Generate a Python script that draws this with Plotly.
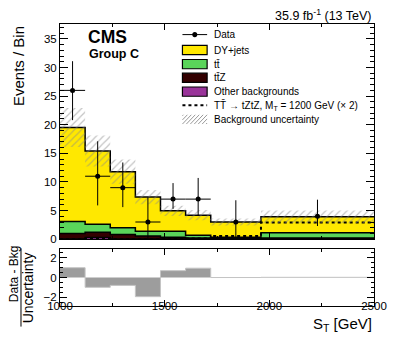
import numpy as np
import plotly.graph_objects as go

# S_T bins in GeV
bin_edges = [1000, 1120, 1240, 1360, 1480, 1600, 1720, 1960, 2500]

# observed data with asymmetric errors
data_obs = [26, 11, 9, 3, 7, 7, 3, 4]
data_err_up = [5.1, 6.1, 4.4, 4.4, 2.8, 3.7, 3.8, 2.9]
data_err_down = [5.2, 5.1, 3.4, 3.0, 1.7, 2.8, 3.0, 1.7]

# background components, stacked bottom -> top
bkg_other = [0.05, 0.3, 0.05, 0.05, 0.05, 0.02, 0.02, 0.05]
bkg_ttz = [0.95, 0.9, 0.75, 0.5, 0.3, 0.18, 0.08, 0.15]
bkg_ttbar = [2.1, 1.4, 1.2, 0.85, 1.05, 0.5, 0.25, 0.9]
bkg_dy = [16.4, 12.8, 9.8, 5.95, 3.55, 3.5, 2.65, 2.8]
bkg_unc = [3.4, 2.7, 2.1, 1.25, 0.9, 0.9, 0.6, 1.1]

# TT -> tZtZ, M_T = 1200 GeV, scaled x2
signal_x2 = [0.05, 0.05, 0.05, 0.05, 0.05, 0.1, 0.55, 2.9]

# (data - bkg) / uncertainty
pull = [1.0, -1.0, -0.8, -1.95, 0.7, 0.95, 0.0, 0.02]

FONT = "Liberation Sans"
# the page body has an 8px margin, so the figure is drawn 8px in from the corner
OFF = 8
W, H = 399 - OFF, 338 - OFF
L, R, T, B = 60, 21, 24, 40          # plot frame in window pixels
PW, PH = 399 - L - R, 338 - T - B

edges = np.array(bin_edges, dtype=float)
centers = 0.5 * (edges[:-1] + edges[1:])
widths = np.diff(edges)


def step(vals):
    vals = list(vals)
    return list(edges), vals + [vals[-1]]


def px_x(px):
    return (px - L) / PW


def px_y(py):
    return (338 - B - py) / PH


lvl_other = np.array(bkg_other)
lvl_ttz = lvl_other + np.array(bkg_ttz)
lvl_ttbar = lvl_ttz + np.array(bkg_ttbar)
lvl_total = lvl_ttbar + np.array(bkg_dy)

fig = go.Figure()

stack = [
    (lvl_total, "#ffe800", "DY+jets"),
    (lvl_ttbar, "#5ad55a", "ttbar"),
    (lvl_ttz, "#330000", "ttZ"),
    (lvl_other, "#993399", "Other"),
]
for lvl, col, name in stack:
    sx, sy = step(lvl)
    fig.add_trace(go.Scatter(x=sx, y=sy, mode="lines", line_shape="hv",
                             fill="tozeroy", fillcolor=col,
                             line=dict(color="black", width=1.5),
                             name=name, xaxis="x", yaxis="y"))

sx, sy = step(signal_x2)
fig.add_trace(go.Scatter(x=sx, y=sy, mode="lines", line_shape="hv",
                         line=dict(color="black", width=2, dash="dot"),
                         xaxis="x", yaxis="y"))

# hatched uncertainty band as one polygon
up = lvl_total + np.array(bkg_unc)
lo = lvl_total - np.array(bkg_unc)
hx, hy = [], []
for i in range(len(centers)):
    hx += [edges[i], edges[i + 1]]
    hy += [up[i], up[i]]
for i in reversed(range(len(centers))):
    hx += [edges[i + 1], edges[i]]
    hy += [lo[i], lo[i]]
fig.add_trace(go.Scatter(x=hx, y=hy, mode="lines", fill="toself",
                         fillcolor="rgba(0,0,0,0)", line=dict(width=0),
                         fillpattern=dict(shape="/", fgcolor="#8a8a8a",
                                          bgcolor="rgba(0,0,0,0)",
                                          fillmode="overlay",
                                          size=5, solidity=0.25),
                         xaxis="x", yaxis="y"))

xerr = np.where(widths <= 120, widths / 2, 0)
fig.add_trace(go.Scatter(x=centers, y=data_obs, mode="markers",
                         marker=dict(color="black", size=5),
                         error_y=dict(type="data", symmetric=False,
                                      array=data_err_up, arrayminus=data_err_down,
                                      width=0, thickness=1, color="black"),
                         error_x=dict(type="data", array=xerr, width=0,
                                      thickness=1, color="black"),
                         xaxis="x", yaxis="y"))

# ratio panel
rx, ry = step(pull)
fig.add_trace(go.Scatter(x=rx, y=ry, mode="lines", line_shape="hv",
                         fill="tozeroy", fillcolor="#9d9d9d",
                         line=dict(color="#c4c4c4", width=1),
                         xaxis="x2", yaxis="y2"))

axis_common = dict(showline=True, linecolor="black", linewidth=1,
                   mirror="ticks", ticks="inside", tickcolor="black",
                   showgrid=False, zeroline=False,
                   tickfont=dict(family=FONT, size=11.5, color="black"))

fig.update_layout(
    width=W, height=H,
    margin=dict(l=L - OFF, r=R, t=T - OFF, b=B - OFF),
    paper_bgcolor="white", plot_bgcolor="white",
    showlegend=False,
    font=dict(family=FONT, color="black"),
    xaxis=dict(axis_common, domain=[0, 1], anchor="y", range=[1000, 2500],
               tickvals=[1000, 1500, 2000, 2500], showticklabels=False,
               ticklen=6, minor=dict(dtick=250, ticklen=3, ticks="inside",
                                     tickcolor="black")),
    yaxis=dict(axis_common, domain=[0.237, 1], anchor="x", range=[0, 37.6],
               dtick=5, ticklen=8,
               minor=dict(dtick=1, ticklen=4, ticks="inside", tickcolor="black")),
    xaxis2=dict(axis_common, domain=[0, 1], anchor="y2", range=[1000, 2500],
                matches="x", tickvals=[1000, 1500, 2000, 2500], ticklen=6,
                ticklabelstandoff=-11,
                minor=dict(dtick=250, ticklen=3, ticks="inside",
                           tickcolor="black")),
    yaxis2=dict(axis_common, domain=[0, 0.202], anchor="x2", range=[-2.9, 2.9],
                tickvals=[-2, 0, 2], ticklen=7,
                minor=dict(dtick=0.5, ticklen=3, ticks="inside",
                           tickcolor="black")),
)

ann = []
ann.append(dict(text="35.9 fb<sup>-1</sup> (13 TeV)", x=1, y=px_y(15),
                xanchor="right", yanchor="middle", font=dict(size=12.5)))
ann.append(dict(text="<b>CMS</b>", x=px_x(86), y=px_y(37), xanchor="left",
                yanchor="middle", font=dict(size=17.5)))
ann.append(dict(text="<b>Group C</b>", x=px_x(87), y=px_y(53), xanchor="left",
                yanchor="middle", font=dict(size=12.5)))
ann.append(dict(text="Events / Bin", textangle=-90, x=px_x(17.5), y=1,
                xanchor="center", yanchor="top", font=dict(size=15)))
ann.append(dict(text="S<sub>T</sub> [GeV]", x=1, y=px_y(316),
                xanchor="right", yanchor="middle", font=dict(size=15)))
ann.append(dict(text="Data - Bkg", textangle=-90, x=px_x(13.5), y=px_y(267),
                xanchor="center", yanchor="middle", font=dict(size=12)))
ann.append(dict(text="Uncertainty", textangle=-90, x=px_x(28.5), y=px_y(280),
                xanchor="center", yanchor="middle", font=dict(size=14)))

shapes = [dict(type="line", xref="paper", yref="paper",
               x0=px_x(20.5), x1=px_x(20.5), y0=px_y(242), y1=px_y(318),
               line=dict(color="black", width=1))]

# legend
leg_rows = [34.3, 49.3, 63, 76.3, 89.7, 103, 116.7]
leg_labels = ["Data", "DY+jets", "tt\u0304", "tt\u0304Z", "Other backgrounds",
              "TT\u0304 \u2192 tZtZ, M<sub>T</sub> = 1200 GeV (\u00d7 2)",
              "Background uncertainty"]
bx0, bx1, txt_x = 184, 209, 214
for row, label in zip(leg_rows, leg_labels):
    ann.append(dict(text=label, x=px_x(txt_x), y=px_y(row), xanchor="left",
                    yanchor="middle", font=dict(size=10)))

shapes.append(dict(type="line", xref="paper", yref="paper",
                   x0=px_x(bx0), x1=px_x(bx1), y0=px_y(leg_rows[0]),
                   y1=px_y(leg_rows[0]), line=dict(color="black", width=1)))
cx, cy = 0.5 * (bx0 + bx1), leg_rows[0]
shapes.append(dict(type="circle", xref="paper", yref="paper",
                   x0=px_x(cx - 2.5), x1=px_x(cx + 2.5),
                   y0=px_y(cy + 2.5), y1=px_y(cy - 2.5),
                   fillcolor="black", line=dict(color="black", width=0)))
for row, (_, col, _) in zip(leg_rows[1:5], stack):
    shapes.append(dict(type="rect", xref="paper", yref="paper",
                       x0=px_x(bx0), x1=px_x(bx1),
                       y0=px_y(row + 4.5), y1=px_y(row - 4.5),
                       fillcolor=col, line=dict(color="black", width=1.2)))
shapes.append(dict(type="line", xref="paper", yref="paper",
                   x0=px_x(bx0), x1=px_x(bx1), y0=px_y(leg_rows[5]),
                   y1=px_y(leg_rows[5]),
                   line=dict(color="black", width=2, dash="dot")))
hb = leg_rows[6] + 4.5
for x0 in range(bx0 - 8, bx1, 4):
    xa, ya = max(x0, bx0), hb - (max(x0, bx0) - x0)
    xb = min(x0 + 9, bx1)
    yb = hb - (xb - x0)
    if xb > xa:
        shapes.append(dict(type="line", xref="paper", yref="paper",
                           x0=px_x(xa), x1=px_x(xb), y0=px_y(ya), y1=px_y(yb),
                           line=dict(color="#9a9a9a", width=1)))

for a in ann:
    a.update(xref="paper", yref="paper", showarrow=False)
    a["font"] = dict(a["font"], family=FONT, color="black")

fig.update_layout(annotations=ann, shapes=shapes)

fig.write_html("out.html")
